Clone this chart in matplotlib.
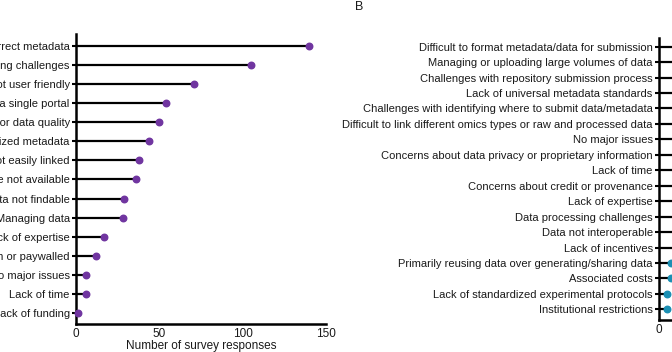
import matplotlib.pyplot as plt
import numpy as np

plt.rcParams['font.family'] = ['Liberation Sans', 'DejaVu Sans']

# Panel A: challenges when reusing data (labels are cropped on the left in the source)
labels_a = ["Missing or incorrect metadata", "Data formatting challenges",
            "Repositories not user friendly", "Data not in a single portal",
            "Poor data quality", "Lack of standardized metadata",
            "Data types not easily linked", "Raw data are not available",
            "Data not findable", "Managing data", "Lack of expertise",
            "Data restricted access on or paywalled", "No major issues",
            "Lack of time", "Lack of funding"]
values_a = [140, 105, 71, 54, 50, 44, 38, 36, 29, 28, 17, 12, 6, 6, 1]

# Panel B: challenges when sharing data (values mostly outside the crop)
labels_b = ["Difficult to format metadata/data for submission",
            "Managing or uploading large volumes of data",
            "Challenges with repository submission process",
            "Lack of universal metadata standards",
            "Challenges with identifying where to submit data/metadata",
            "Difficult to link different omics types or raw and processed data",
            "No major issues",
            "Concerns about data privacy or proprietary information",
            "Lack of time", "Concerns about credit or provenance",
            "Lack of expertise", "Data processing challenges",
            "Data not interoperable", "Lack of incentives",
            "Primarily reusing data over generating/sharing data",
            "Associated costs", "Lack of standardized experimental protocols",
            "Institutional restrictions"]
values_b = [70, 62, 58, 50, 45, 40, 35, 30, 27, 22, 20, 18, 15, 12, 7, 7, 5, 5]

W, H = 672, 352
fig = plt.figure(figsize=(W / 100, H / 100), dpi=100)


def lollipop(ax, labels, values, color, ylim):
    y = np.arange(len(labels))[::-1]
    ax.hlines(y, 0, values, color='black', lw=1.6, zorder=2)
    ax.scatter(values, y, s=22, color=color, zorder=3, clip_on=False)
    ax.set_yticks(y)
    ax.set_yticklabels(labels, fontsize=8, color='#1a1a1a')
    ax.set_ylim(*ylim)
    ax.set_xlim(0, 150)
    ax.set_xticks([0, 50, 100, 150])
    for s in ['top', 'right']:
        ax.spines[s].set_visible(False)
    for s in ['left', 'bottom']:
        ax.spines[s].set_linewidth(1.8)
    ax.tick_params(axis='y', length=3, width=1.5, pad=1.5)
    ax.tick_params(axis='x', length=0, pad=3, labelsize=8.5, labelcolor='#1a1a1a')


ax1 = fig.add_axes([76 / W, 1 - 324 / H, 250 / W, 290 / H])
lollipop(ax1, labels_a, values_a, '#7035a0', (-0.58, 14.63))
ax1.set_xlabel("Number of survey responses", fontsize=8.5, color='#1a1a1a', labelpad=0)

ax2 = fig.add_axes([659 / W, 1 - 320 / H, 250 / W, 282 / H])
lollipop(ax2, labels_b, values_b, '#1b8fb3', (-0.69, 17.56))

fig.text(355 / W, 1 - 7 / H, "B", fontsize=9, color='#1a1a1a', va='center')

fig.savefig("out.png", dpi=100)
